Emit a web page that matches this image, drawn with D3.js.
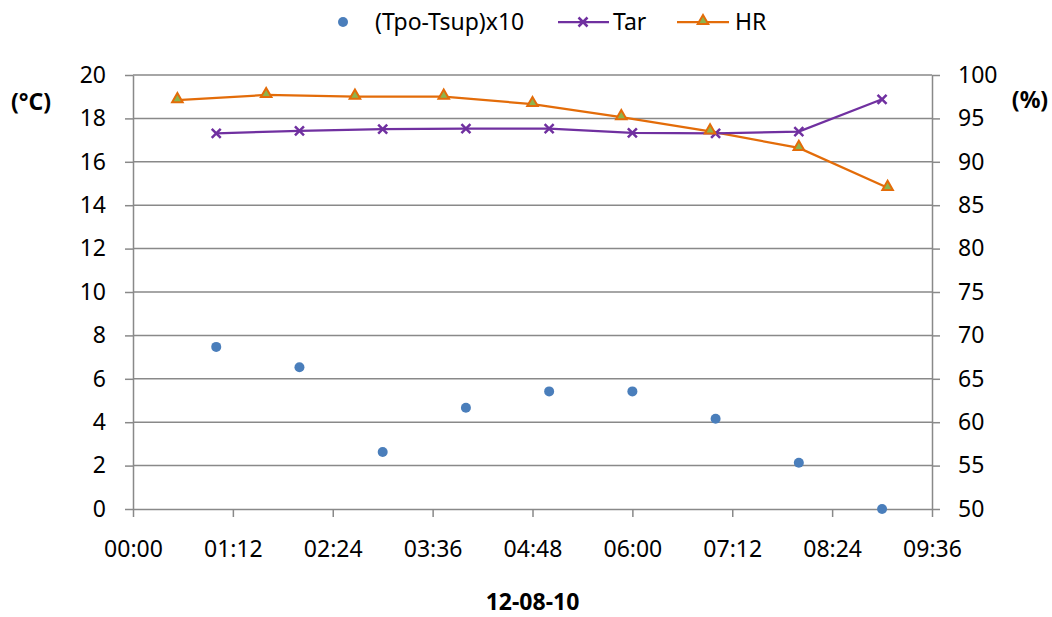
<!DOCTYPE html>
<html>
<head>
<meta charset="utf-8">
<script src="https://cdn.jsdelivr.net/npm/d3@7"></script>
<style>
body{margin:0;background:#fff}
svg text{font-family:"Noto Sans",sans-serif;fill:#000}
</style>
</head>
<body>
<svg width="1052" height="617"></svg>
<script>
// readings of 12-08-10
const tDelta=["01:00","02:00","03:00","04:00","05:00","06:00","07:00","08:00","09:00"]
const delta=[7.47,6.53,2.63,4.67,5.42,5.42,4.16,2.13,0]
const tTar=["01:00","02:00","03:00","04:00","05:00","06:00","07:00","08:00","09:00"]
const tar=[17.31,17.43,17.51,17.53,17.53,17.33,17.31,17.39,18.88]
const tHR=["00:32","01:36","02:40","03:44","04:48","05:52","06:56","08:00","09:04"]
const hr=[97.1,97.7,97.5,97.5,96.65,95.15,93.5,91.6,87.0]
const yLeftTicks=[0,2,4,6,8,10,12,14,16,18,20]
const yRightTicks=[50,55,60,65,70,75,80,85,90,95,100]
const xTicks=["00:00","01:12","02:24","03:36","04:48","06:00","07:12","08:24","09:36"]

const toMin=s=>{const p=s.split(":");return +p[0]*60+ +p[1]}
const fmt=m=>d3.format("02")(Math.floor(m/60))+":"+d3.format("02")(m%60)

const L=133,R=932,T=75,B=509
const FS=23
const svg=d3.select("svg")
const x=d3.scaleLinear().domain([0,576]).range([L,R])
const yl=d3.scaleLinear().domain([0,20]).range([B,T])
const yr=d3.scaleLinear().domain([50,100]).range([B,T])
const grey="#898989"

// grid
svg.append("g").selectAll("line").data(yLeftTicks.slice(1)).join("line")
.attr("x1",L).attr("x2",R).attr("y1",d=>yl(d)).attr("y2",d=>yl(d))
.attr("stroke",grey).attr("stroke-width",1.5)

function styleAxis(g){
g.selectAll(".domain").attr("stroke",grey).attr("stroke-width",1.5)
g.selectAll(".tick line").attr("stroke",grey).attr("stroke-width",1.5)
g.selectAll("text").attr("font-size",FS).attr("font-family","Noto Sans")
}
svg.append("g").attr("transform",`translate(0,${B})`)
.call(d3.axisBottom(x).tickValues(xTicks.map(toMin)).tickFormat(fmt).tickSizeInner(8).tickSizeOuter(0).tickPadding(24))
.call(styleAxis)
svg.append("g").attr("transform",`translate(${L},0)`)
.call(d3.axisLeft(yl).tickValues(yLeftTicks).tickSizeInner(8).tickSizeOuter(0).tickPadding(19))
.call(styleAxis)
svg.append("g").attr("transform",`translate(${R},0)`)
.call(d3.axisRight(yr).tickValues(yRightTicks).tickSizeInner(8).tickSizeOuter(0).tickPadding(18))
.call(styleAxis)

const cBlue="#4a7ebb",cPur="#7030a0",cOr="#e36c09",cGr="#8db44d"

// HR line
const hrData=tHR.map((t,i)=>({m:toMin(t),v:hr[i]}))
svg.append("path").datum(hrData)
.attr("d",d3.line().x(d=>x(d.m)).y(d=>yr(d.v)))
.attr("fill","none").attr("stroke",cOr).attr("stroke-width",2.25)
// Tar line
const tarData=tTar.map((t,i)=>({m:toMin(t),v:tar[i]}))
svg.append("path").datum(tarData)
.attr("d",d3.line().x(d=>x(d.m)).y(d=>yl(d.v)))
.attr("fill","none").attr("stroke",cPur).attr("stroke-width",2.25)

const tri=d3.symbol().type(d3.symbolTriangle).size(48)
const cross="M-4.5,-4.5L4.5,4.5M-4.5,4.5L4.5,-4.5"
svg.append("g").selectAll("path").data(tarData).join("path")
.attr("transform",d=>`translate(${x(d.m)},${yl(d.v)})`)
.attr("d",cross).attr("stroke",cPur).attr("stroke-width",2.5).attr("fill","none")
svg.append("g").selectAll("path").data(hrData).join("path")
.attr("transform",d=>`translate(${x(d.m)},${yr(d.v)-1})`)
.attr("d",tri).attr("fill",cGr).attr("stroke",cOr).attr("stroke-width",2)

// scatter
svg.append("g").selectAll("circle").data(tDelta.map((t,i)=>({m:toMin(t),v:delta[i]}))).join("circle")
.attr("cx",d=>x(d.m)).attr("cy",d=>yl(d.v)).attr("r",5).attr("fill",cBlue)

// titles
svg.append("text").attr("x",31).attr("y",110).attr("text-anchor","middle")
.attr("font-size",FS).attr("font-weight","bold").text("(°C)")
svg.append("text").attr("x",1030).attr("y",108).attr("text-anchor","middle")
.attr("font-size",FS).attr("font-weight","bold").text("(%)")
svg.append("text").attr("x",(L+R)/2).attr("y",610).attr("text-anchor","middle")
.attr("font-size",FS).attr("font-weight","bold").text("12-08-10")

// legend
const lg=svg.append("g").attr("font-size",FS)
const ly=22
lg.append("circle").attr("cx",343).attr("cy",ly).attr("r",5).attr("fill",cBlue)
lg.append("text").attr("x",375).attr("y",ly+8).text("(Tpo-Tsup)x10")
lg.append("line").attr("x1",558).attr("x2",609).attr("y1",ly).attr("y2",ly).attr("stroke",cPur).attr("stroke-width",2.25)
lg.append("path").attr("transform",`translate(583,${ly})`).attr("d",cross).attr("stroke",cPur).attr("stroke-width",2.5)
lg.append("text").attr("x",613).attr("y",ly+8).text("Tar")
lg.append("line").attr("x1",677).attr("x2",729).attr("y1",ly).attr("y2",ly).attr("stroke",cOr).attr("stroke-width",2.25)
lg.append("path").attr("transform",`translate(703,${ly-1})`).attr("d",tri).attr("fill",cGr).attr("stroke",cOr).attr("stroke-width",2)
lg.append("text").attr("x",735).attr("y",ly+8).text("HR")
</script>
</body>
</html>
